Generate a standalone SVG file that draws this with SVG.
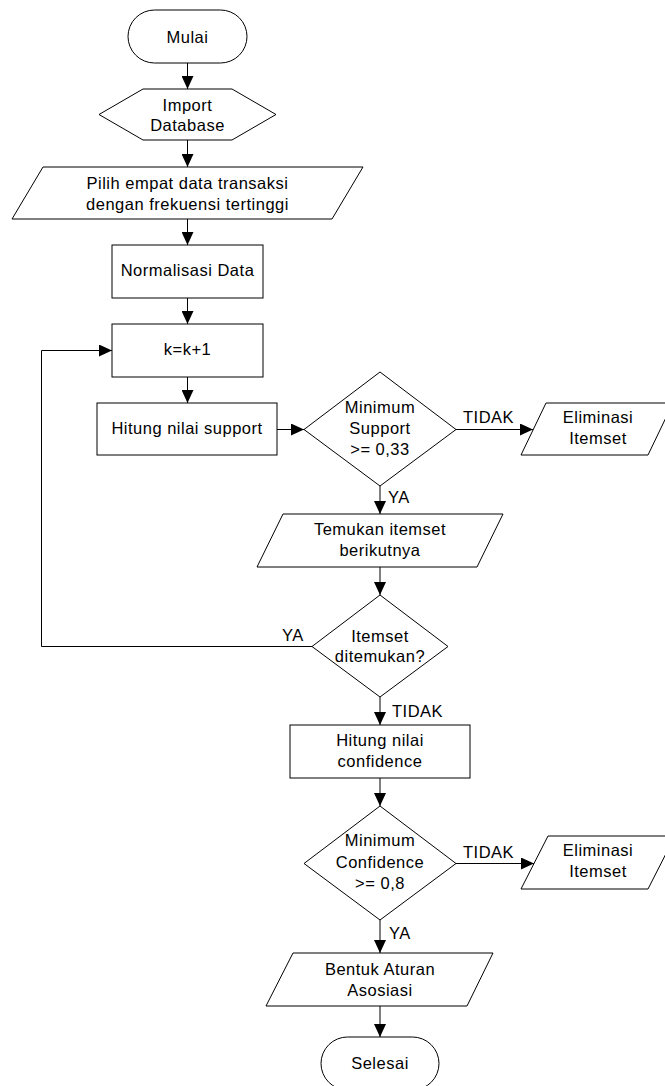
<svg xmlns="http://www.w3.org/2000/svg" width="665" height="1086" viewBox="0 0 665 1086">
<style>
.s{fill:#fff;stroke:#000;stroke-width:1}
.t{font-family:"Liberation Sans",Arial,sans-serif;font-size:16.5px;fill:#000;text-anchor:middle;letter-spacing:0.5px}
.l{font-family:"Liberation Sans",Arial,sans-serif;font-size:16.5px;fill:#000;letter-spacing:0.5px}
.c{fill:none;stroke:#000;stroke-width:1;marker-end:url(#ah)}
</style>
<defs>
<marker id="ah" markerUnits="userSpaceOnUse" markerWidth="13" markerHeight="12" refX="13" refY="6" orient="auto">
<path d="M0,0 L13,6 L0,12 z" fill="#000"/>
</marker>
</defs>
<rect width="665" height="1086" fill="#fff"/>
<g id="connectors">
<path class="c" d="M187.5,63 V89"/>
<path class="c" d="M187.5,140 V167"/>
<path class="c" d="M187.5,219 V245"/>
<path class="c" d="M187.5,298 V324"/>
<path class="c" d="M187.5,377 V403"/>
<path class="c" d="M277,429.5 H304"/>
<path class="c" d="M456,429.5 H533"/>
<path class="c" d="M380,486 V514"/>
<path class="c" d="M380,567 V595"/>
<path class="c" d="M312,646.5 H41.5 V350.5 H112"/>
<path class="c" d="M380,697 V725"/>
<path class="c" d="M380,778 V806"/>
<path class="c" d="M456,863.5 H534"/>
<path class="c" d="M380,920 V953"/>
<path class="c" d="M380,1006 V1037"/>
</g>
<g id="n-mulai">
<rect class="s" x="128" y="10" width="119" height="53" rx="26.5"/>
<text class="t" x="187.5" y="43">Mulai</text>
</g>
<g id="n-import">
<polygon class="s" points="99,114.5 143,89 232,89 276,114.5 232,140 143,140"/>
<text class="t" x="187.5" y="110.5">Import</text>
<text class="t" x="187.5" y="130.5">Database</text>
</g>
<g id="n-pilih">
<polygon class="s" points="43,167 363,167 332,219 12,219"/>
<text class="t" x="187.5" y="189">Pilih empat data transaksi</text>
<text class="t" x="187.5" y="210">dengan frekuensi tertinggi</text>
</g>
<g id="n-normalisasi">
<rect class="s" x="112" y="245" width="151" height="53"/>
<text class="t" x="187.5" y="276">Normalisasi Data</text>
</g>
<g id="n-k">
<rect class="s" x="112" y="324" width="151" height="53"/>
<text class="t" x="187.5" y="355">k=k+1</text>
</g>
<g id="n-support">
<rect class="s" x="97" y="403" width="180" height="52"/>
<text class="t" x="187" y="434">Hitung nilai support</text>
</g>
<g id="n-minsupport">
<polygon class="s" points="380,372 456,429.5 380,486 304,429.5"/>
<text class="t" x="380" y="413">Minimum</text>
<text class="t" x="380" y="434">Support</text>
<text class="t" x="380" y="455">&gt;= 0,33</text>
</g>
<g id="n-elim1">
<polygon class="s" points="546,403 673,403 648,455 521,455"/>
<text class="t" x="598" y="423">Eliminasi</text>
<text class="t" x="598" y="444">Itemset</text>
</g>
<g id="n-temukan">
<polygon class="s" points="283,514 503,514 477,567 257,567"/>
<text class="t" x="380" y="535">Temukan itemset</text>
<text class="t" x="380" y="556">berikutnya</text>
</g>
<g id="n-ditemukan">
<polygon class="s" points="380,595 448,646.5 380,697 312,646.5"/>
<text class="t" x="380" y="642">Itemset</text>
<text class="t" x="380" y="662">ditemukan?</text>
</g>
<g id="n-confidence">
<rect class="s" x="290" y="725" width="180" height="53"/>
<text class="t" x="380" y="746">Hitung nilai</text>
<text class="t" x="380" y="767">confidence</text>
</g>
<g id="n-minconf">
<polygon class="s" points="380,806 456,863.5 380,920 304,863.5"/>
<text class="t" x="380" y="846">Minimum</text>
<text class="t" x="380" y="868">Confidence</text>
<text class="t" x="380" y="889">&gt;= 0,8</text>
</g>
<g id="n-elim2">
<polygon class="s" points="548,836 675,836 648,889 521,889"/>
<text class="t" x="598" y="856">Eliminasi</text>
<text class="t" x="598" y="877">Itemset</text>
</g>
<g id="n-bentuk">
<polygon class="s" points="293,953 493,953 467,1006 266,1006"/>
<text class="t" x="380" y="975">Bentuk Aturan</text>
<text class="t" x="380" y="996">Asosiasi</text>
</g>
<g id="n-selesai">
<rect class="s" x="321" y="1037" width="118" height="53" rx="26.5"/>
<text class="t" x="380" y="1069">Selesai</text>
</g>
<g id="labels">
<text class="l" x="463" y="423">TIDAK</text>
<text class="l" x="388" y="503">YA</text>
<text class="l" x="282" y="641">YA</text>
<text class="l" x="392" y="717">TIDAK</text>
<text class="l" x="463" y="858">TIDAK</text>
<text class="l" x="389" y="939">YA</text>
</g>
</svg>
